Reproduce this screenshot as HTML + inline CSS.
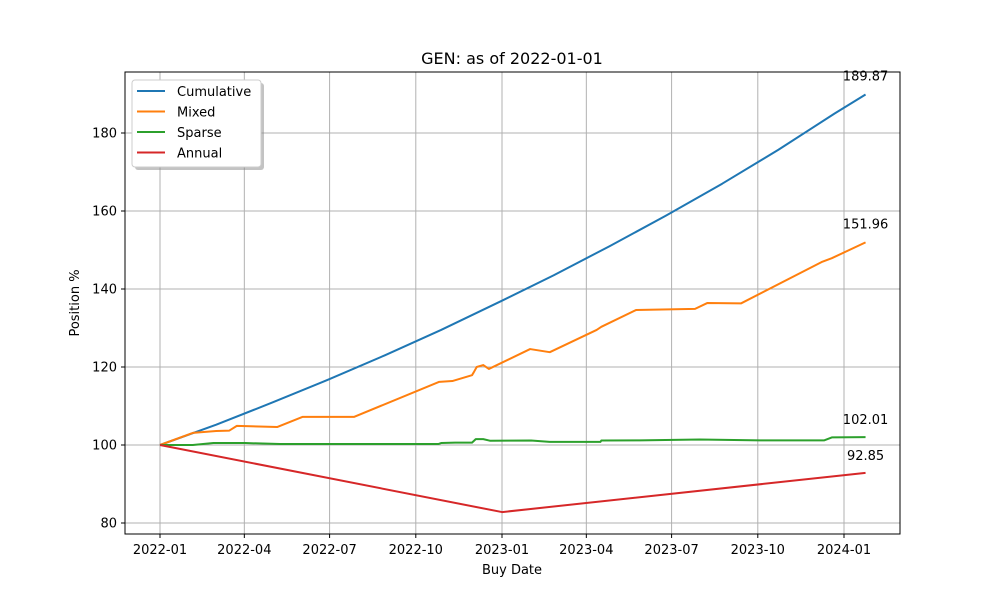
<!DOCTYPE html>
<html><head><meta charset="utf-8"><style>
body{margin:0;background:#fff}
text{font-family:"DejaVu Sans","Liberation Sans",sans-serif;fill:#000}
</style></head><body>
<svg id="c" width="1000" height="600" xmlns="http://www.w3.org/2000/svg">
<rect width="1000" height="600" fill="#fff"/>
<g id="grid"></g>
<g id="series"></g>
<rect x="125" y="72" width="775" height="462" fill="none" stroke="#000" stroke-width="1"/>
<g id="axes"></g>
<text x="512" y="64" font-size="16" text-anchor="middle">GEN: as of 2022-01-01</text>
<text x="512" y="574" font-size="13" text-anchor="middle">Buy Date</text>
<text transform="translate(79,303) rotate(-90)" font-size="13" text-anchor="middle">Position %</text>
<g>
<rect x="135" y="83" width="129" height="87" rx="3" fill="#888" opacity="0.5"/>
<rect x="132" y="80" width="129" height="87" rx="3" fill="#fff" stroke="#ccc"/>
<g id="legend"></g>
</g>
</svg>
<script>
const seriesNames=["Cumulative","Mixed","Sparse","Annual"];
const colors=["#1f77b4","#ff7f0e","#2ca02c","#d62728"];
const cumDays=[0,60,120,180,240,300,365,420,480,540,600,660,720,753];
const cumVals=[100,105.2,110.9,116.8,123.0,129.5,137.0,143.5,151.0,158.8,167.0,175.7,185.0,189.87];
const mixDays=[0,35,60,74,82,125,152,207,298,312,333,335,338,345,351,395,416,466,471,508,571,584,620,706,717,753];
const mixVals=[100,103.1,103.6,103.7,104.9,104.6,107.2,107.2,116.2,116.4,117.9,118.7,120,120.5,119.5,124.6,123.8,129.5,130.3,134.6,134.9,136.4,136.3,146.9,147.9,151.96];
const spDays=[0,35,57,91,128,297,300,315,333,337,345,352,396,416,470,471,512,576,640,709,717,753];
const spVals=[100,100,100.5,100.5,100.25,100.25,100.5,100.6,100.6,101.5,101.5,101.1,101.15,100.8,100.8,101.15,101.2,101.4,101.2,101.2,101.95,102.01];
const annDays=[0,365,753];
const annVals=[100,82.8,92.85];
const endLabels=["189.87","151.96","102.01","92.85"];
const yTicks=[80,100,120,140,160,180];
const xTickDays=[0,90,181,273,365,455,546,638,730];
const xTickLabels=["2022-01","2022-04","2022-07","2022-10","2023-01","2023-04","2023-07","2023-10","2024-01"];
const NS="http://www.w3.org/2000/svg";
const X=d=>160+d*(684/730);
const Y=v=>445-(v-100)*3.9;
function mk(tag,attrs,parent){const e=document.createElementNS(NS,tag);for(const k in attrs)e.setAttribute(k,attrs[k]);parent.appendChild(e);return e;}
const grid=document.getElementById('grid'),axes=document.getElementById('axes'),ser=document.getElementById('series'),leg=document.getElementById('legend');
yTicks.forEach(v=>{
 const l=mk('line',{x1:125,x2:900,y1:Y(v),y2:Y(v),stroke:'#b0b0b0','stroke-width':1},grid);
 
 
 mk('line',{x1:121,x2:125,y1:Y(v),y2:Y(v),stroke:'#000'},axes);
 const t=mk('text',{x:117,y:Y(v)+4.5,'font-size':13,'text-anchor':'end'},axes);t.textContent=v;
 
 
});
xTickDays.forEach((d,i)=>{
 const l=mk('line',{x1:X(d),x2:X(d),y1:72,y2:534,stroke:'#b0b0b0','stroke-width':1},grid);
 
 
 mk('line',{x1:X(d),x2:X(d),y1:534,y2:538,stroke:'#000'},axes);
 const t=mk('text',{x:X(d),y:554,'font-size':13,'text-anchor':'middle'},axes);t.textContent=xTickLabels[i];
 
 
});
const all=[[cumDays,cumVals],[mixDays,mixVals],[spDays,spVals],[annDays,annVals]];
const labelDy=[-14,-14,-13,-13];
all.forEach(([ds,vs],i)=>{
 const p=mk('polyline',{points:ds.map((d,j)=>X(d)+','+Y(vs[j])).join(' '),fill:'none',stroke:colors[i],'stroke-width':2,'stroke-linejoin':'round'},ser);
 
 
 const n=ds.length-1;
 const t=mk('text',{x:X(ds[n]),y:Y(vs[n])+labelDy[i],'font-size':13,'text-anchor':'middle'},ser);t.textContent=endLabels[i];
 
 
});
seriesNames.forEach((n,i)=>{
 const y=91+i*20.5;
 const l=mk('line',{x1:137,x2:165,y1:y,y2:y,stroke:colors[i],'stroke-width':2},leg);
 
 
 const t=mk('text',{x:177,y:y+5,'font-size':13},leg);t.textContent=n;
 
 
});
</script>
</body></html>
